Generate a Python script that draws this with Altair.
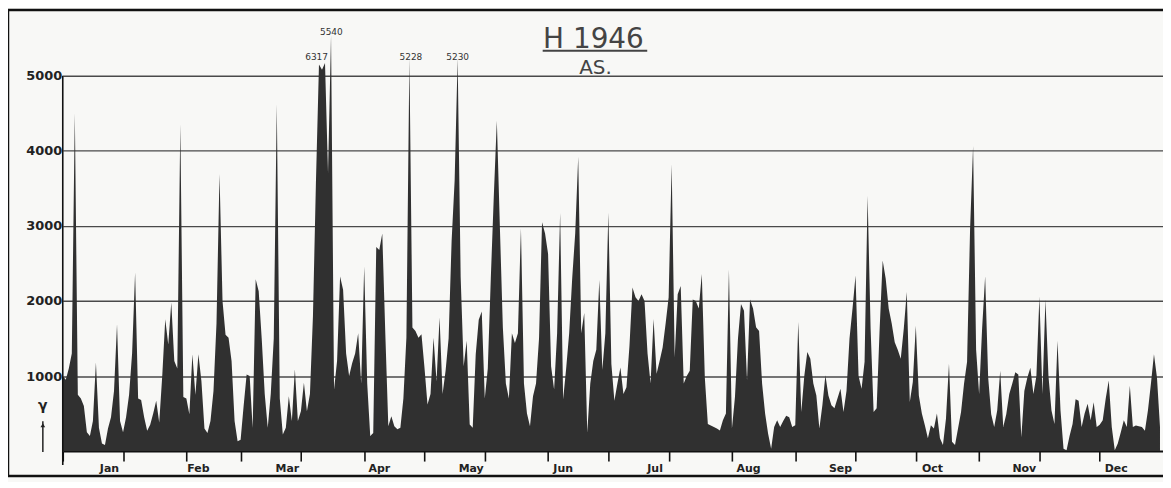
import altair as alt
import pandas as pd

# Daily values, month by month (1946)
jan = [1000, 950, 1100, 1300, 4500, 750, 700, 600, 250, 200, 400, 1180, 310, 100, 80, 300,
       450, 800, 1690, 400, 250, 450, 750, 1300, 2380, 700, 680, 450, 270, 350, 500]
feb = [670, 380, 1000, 1755, 1420, 1980, 1200, 1100, 4355, 720, 700, 490, 1290, 750, 1290, 930,
       300, 240, 400, 800, 1700, 3690, 2000, 1550, 1510, 1200, 400, 130]
mar = [150, 600, 1020, 1000, 310, 2290, 2130, 1500, 760, 310, 760, 1500, 4620, 700, 220, 310,
       730, 400, 1090, 400, 530, 910, 530, 760, 1800, 3600, 5150, 5080, 5170, 3700, 5540]
apr = [820, 1200, 2325, 2150, 1300, 1000, 1170, 1300, 1570, 900, 2460, 900, 200, 240, 2720, 2680,
       2900, 1570, 330, 465, 330, 290, 310, 700, 1510, 5228, 1645, 1600, 1510, 1555]
may = [1110, 620, 760, 1510, 930, 1780, 760, 1070, 1500, 2800, 3600, 5230, 2320, 1130, 1470, 355,
       310, 1290, 1750, 1860, 700, 1100, 2300, 3400, 4400, 3000, 1645, 900, 700, 1570, 1440]
jun = [1570, 2970, 900, 500, 330, 730, 900, 1500, 3050, 2900, 2630, 1130, 820, 1570, 3170, 690,
       1100, 1570, 2300, 2900, 3920, 1570, 1840, 245, 900, 1200, 1350, 2280, 1085, 1570]
jul = [3175, 1160, 670, 900, 1115, 760, 850, 1400, 2180, 2050, 2000, 2090, 2000, 1300, 900, 1760,
       1030, 1200, 1380, 1700, 2050, 3820, 1250, 2090, 2200, 900, 1000, 1070, 2020, 2000, 1900]
aug = [2360, 980, 360, 340, 320, 300, 275, 410, 500, 2420, 300, 720, 1500, 1960, 1870, 940,
       2020, 1900, 1650, 1600, 900, 500, 230, 30, 320, 410, 320, 400, 470, 450, 320]
sep = [345, 1720, 520, 1000, 1320, 1230, 900, 740, 300, 610, 1010, 740, 610, 570, 700, 830,
       520, 800, 1500, 1900, 2340, 1000, 830, 1190, 3400, 1630, 520, 570, 1630, 2540]
oct_ = [2300, 1900, 1700, 1450, 1350, 1230, 1630, 2120, 655, 920, 1670, 740, 500, 345, 170, 345,
        300, 500, 170, 80, 430, 1165, 125, 80, 300, 520, 900, 1190, 2960, 4065, 1350]
nov = [760, 1640, 2330, 980, 490, 320, 540, 1070, 320, 490, 760, 900, 1050, 1020, 185, 800,
       980, 1110, 760, 1000, 2060, 760, 2020, 1000, 540, 360, 1470, 540, 30, 10]
dec = [200, 360, 690, 670, 320, 500, 630, 410, 650, 320, 350, 410, 700, 940, 320, 10,
       100, 250, 410, 320, 870, 320, 340, 330, 320, 270, 540, 900, 1290, 980, 320]

month_names = ["Jan", "Feb", "Mar", "Apr", "May", "Jun", "Jul", "Aug", "Sep", "Oct", "Nov", "Dec"]
month_series = [jan, feb, mar, apr, may, jun, jul, aug, sep, oct_, nov, dec]

y_ticks = [1000, 2000, 3000, 4000, 5000]

ann_text = ["6317", "5540", "5228", "5230"]
ann_day = [84.2, 89.1, 115.5, 131.0]
ann_level = [5244, 5576, 5244, 5244]

title_main = "H 1946"
title_sub = "AS."
y_symbol = "γ"

# ---- build tables ----
values = [v for m in month_series for v in m]
df = pd.DataFrame({"day": list(range(len(values))), "value": values})

starts = []
s = 0
for m in month_series:
    starts.append(s)
    s += len(m)
tick_days = [st + k for st in starts for k in (0, 10, 20)]
mdf = pd.DataFrame({"month": month_names,
                    "mid": [st + len(m) / 2 for st, m in zip(starts, month_series)]})
adf = pd.DataFrame({"text": ann_text, "day": ann_day, "level": ann_level})
one = pd.DataFrame({"k": [0]})

W, H = 1105, 442
xs = alt.Scale(domain=[0, 365], nice=False, zero=False)
ys = alt.Scale(domain=[0, 5862], nice=False)

area = alt.Chart(df).mark_area(color="#303030", interpolate="linear").encode(
    x=alt.X("day:Q", scale=xs,
            axis=alt.Axis(values=tick_days, labels=False, tickSize=10, tickWidth=1.6,
                          tickColor="#111", domainColor="#111", domainWidth=2,
                          grid=False, title=None)),
    y=alt.Y("value:Q", scale=ys,
            axis=alt.Axis(values=y_ticks, format="d", grid=True, gridColor="#4a4a4a",
                          gridWidth=1.4, domain=False, ticks=False, labelPadding=1,
                          labelFont="DejaVu Sans", labelFontWeight="bold", labelFontSize=13,
                          labelColor="#222", title=None)),
)

months_txt = alt.Chart(mdf).mark_text(font="DejaVu Sans", fontWeight="bold", fontSize=11,
                                      color="#222", baseline="middle").encode(
    x=alt.X("mid:Q", scale=xs), y=alt.value(460), text="month:N")

ann = alt.Chart(adf).mark_text(font="DejaVu Sans", fontSize=9, color="#333",
                               baseline="middle").encode(
    x=alt.X("day:Q", scale=xs), y=alt.Y("level:Q", scale=ys), text="text:N")

left_line = alt.Chart(one).mark_rule(color="#111", strokeWidth=1.6).encode(
    x=alt.value(0), y=alt.value(65), y2=alt.value(456))

frame = alt.Chart(one).mark_rect(fill=None, stroke="#111", strokeWidth=2.5).encode(
    x=alt.value(-55), x2=alt.value(1115), y=alt.value(-1), y2=alt.value(467))

t_main = alt.Chart(one).mark_text(font="DejaVu Sans", fontSize=28, color="#444",
                                  baseline="alphabetic", align="center").encode(
    x=alt.value(533), y=alt.value(37), text=alt.value(title_main))
t_line = alt.Chart(one).mark_rule(color="#444", strokeWidth=2).encode(
    x=alt.value(482), x2=alt.value(587), y=alt.value(40))
t_sub = alt.Chart(one).mark_text(font="DejaVu Sans", fontSize=20, color="#444",
                                 baseline="alphabetic", align="center").encode(
    x=alt.value(535), y=alt.value(63), text=alt.value(title_sub))

g_txt = alt.Chart(one).mark_text(font="DejaVu Sans", fontWeight="bold", fontSize=14,
                                 color="#222", baseline="middle").encode(
    x=alt.value(-20), y=alt.value(397), text=alt.value(y_symbol))
g_arrow = alt.Chart(one).mark_rule(color="#222", strokeWidth=1.5).encode(
    x=alt.value(-20), y=alt.value(412), y2=alt.value(443))
g_head = alt.Chart(one).mark_point(shape="triangle-up", filled=True, color="#222",
                                   size=22, opacity=1).encode(
    x=alt.value(-20), y=alt.value(416))

chart = alt.layer(area, months_txt, ann, left_line, frame, t_main, t_line, t_sub,
                  g_txt, g_arrow, g_head).properties(
    width=W, height=H,
    padding={"left": 55, "top": 2, "right": 0, "bottom": 30},
    autosize=alt.AutoSizeParams(type="none"),
    background="#f8f8f6",
).configure_view(stroke=None)

chart.save("out.html", embed_options={"renderer": "svg", "actions": False})
